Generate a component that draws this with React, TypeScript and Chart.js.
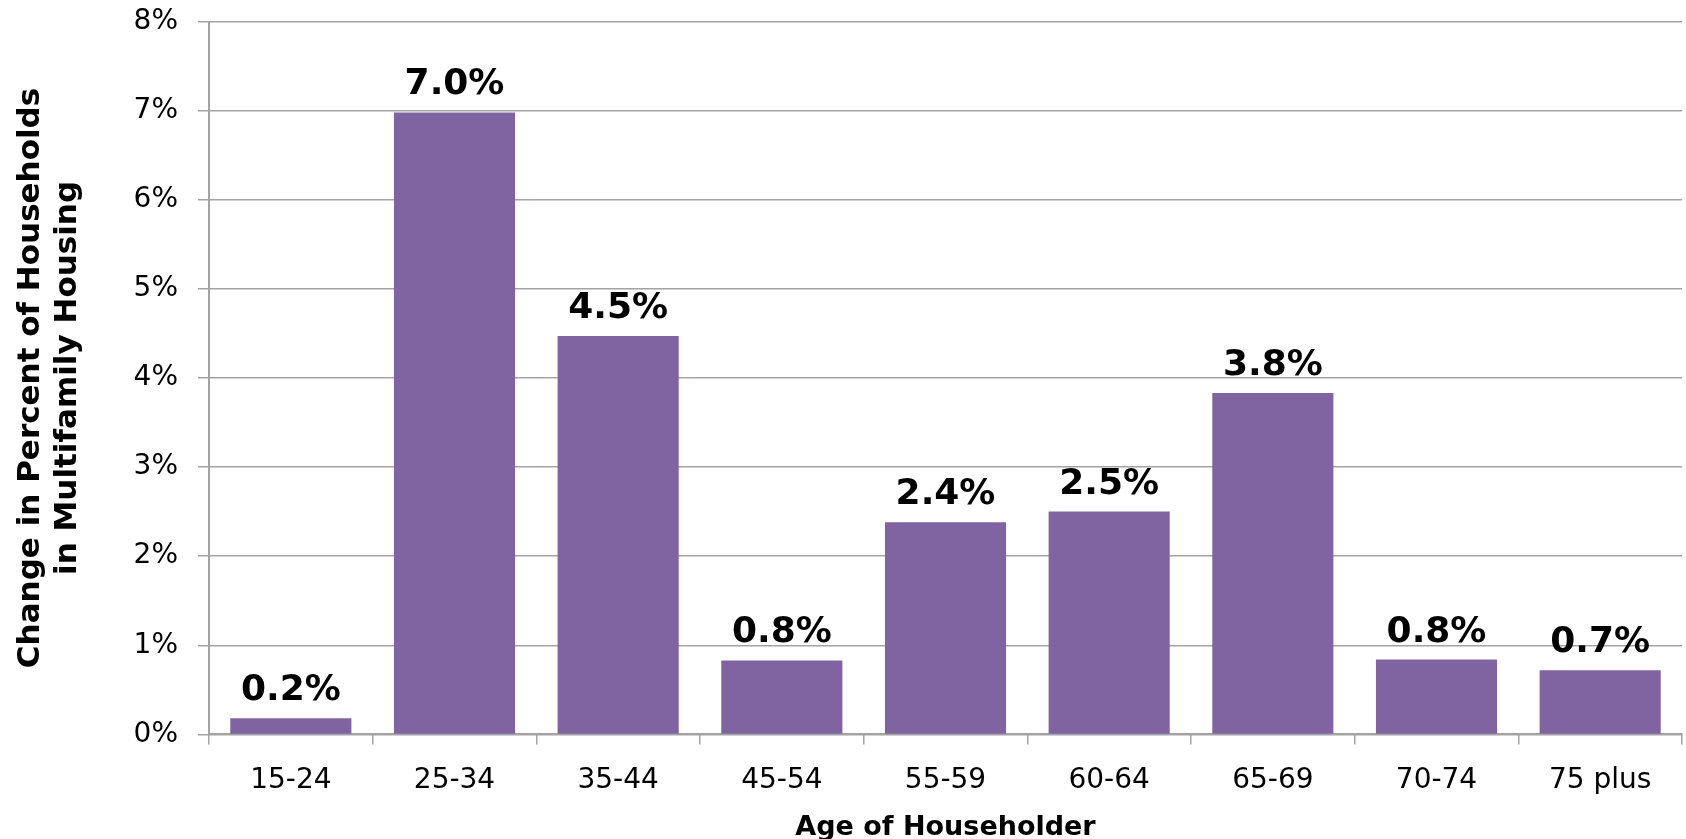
import React, { useEffect, useRef } from "react";
import { Chart, registerables } from "chart.js";

Chart.register(...registerables);

const categories = ["15-24", "25-34", "35-44", "45-54", "55-59", "60-64", "65-69", "70-74", "75 plus"];
const values = [0.18, 6.98, 4.47, 0.83, 2.38, 2.5, 3.83, 0.84, 0.72];
const yTitle = ["Change in Percent of Households", "in Multifamily Housing"];
const xTitle = "Age of Householder";

const FONT = "'DejaVu Sans', sans-serif";
const GRID = "#a3a3a3";
const BAR = "#8064A2";

const valueLabels = {
  id: "valueLabels",
  afterDatasetsDraw(chart: any) {
    const ctx = chart.ctx;
    const meta = chart.getDatasetMeta(0);
    ctx.save();
    ctx.font = `bold 36px ${FONT}`;
    ctx.fillStyle = "#000";
    ctx.textAlign = "center";
    ctx.textBaseline = "alphabetic";
    meta.data.forEach((bar: any, i: number) => {
      ctx.fillText(values[i].toFixed(1) + "%", bar.x, bar.y - 18);
    });
    ctx.restore();
  },
};

export default function App() {
  const ref = useRef<HTMLCanvasElement>(null);
  useEffect(() => {
    if (!ref.current) return;
    const chart = new Chart(ref.current, {
      type: "bar",
      data: {
        labels: categories,
        datasets: [
          {
            data: values,
            backgroundColor: BAR,
            borderWidth: 0,
            categoryPercentage: 1,
            barPercentage: 0.74,
          },
        ],
      },
      options: {
        animation: false,
        responsive: true,
        maintainAspectRatio: false,
        layout: { padding: { top: 21.5, right: 4, left: 0, bottom: 0 } },
        plugins: { legend: { display: false }, tooltip: { enabled: false } },
        scales: {
          x: {
            grid: {
              offset: true,
              drawOnChartArea: false,
              drawTicks: true,
              tickLength: 10,
              color: GRID,
              lineWidth: 1.5,
            },
            border: { color: GRID, width: 2 },
            ticks: { color: "#000", font: { family: FONT, size: 28 }, padding: 20, maxRotation: 0 },
            title: {
              display: true,
              text: xTitle,
              color: "#000",
              font: { family: FONT, size: 27, weight: "bold", lineHeight: 0.8 },
              padding: { top: 0, bottom: 0 },
            },
            afterFit(scale: any) {
              scale.height = 839 - 734.4;
            },
          },
          y: {
            min: 0,
            max: 8,
            ticks: {
              stepSize: 1,
              color: "#000",
              font: { family: FONT, size: 28 },
              padding: 20,
              callback: (v: any) => v + "%",
            },
            grid: { color: GRID, lineWidth: 1.5, tickLength: 11 },
            border: { color: GRID, width: 2 },
            title: {
              display: true,
              text: yTitle,
              color: "#000",
              font: { family: FONT, size: 31, weight: "bold", lineHeight: 1.2 },
              padding: { top: 12, bottom: 0 },
            },
            afterFit(scale: any) {
              scale.width = 209;
              scale.paddingTop = 0;
              scale.paddingBottom = 0;
            },
          },
        },
      },
      plugins: [valueLabels],
    });
    return () => chart.destroy();
  }, []);
  return (
    <div style={{ position: "absolute", left: 0, top: 0, width: 1686, height: 839, background: "#fff" }}>
      <canvas ref={ref} />
    </div>
  );
}
